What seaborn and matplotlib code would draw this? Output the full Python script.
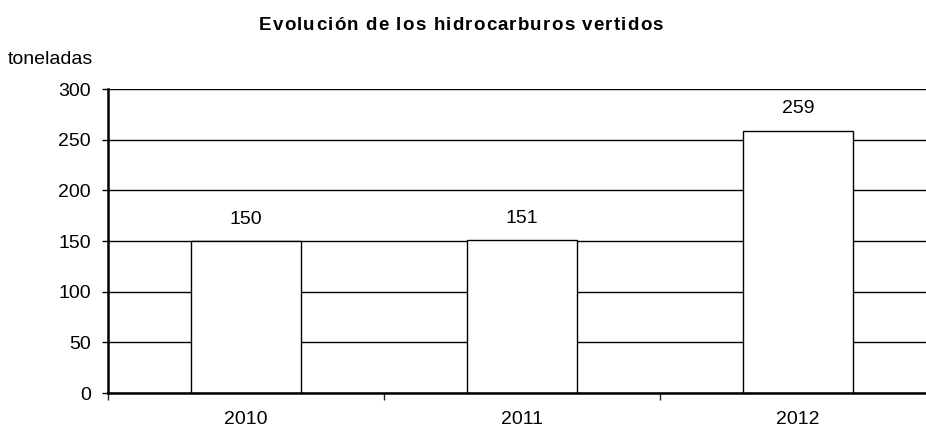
import matplotlib
matplotlib.use("Agg")
import matplotlib.pyplot as plt
import seaborn as sns
import pandas as pd
from matplotlib.ticker import FixedLocator

years = ["2010", "2011", "2012"]
toneladas = [150, 151, 259]
title = "Evolución de los hidrocarburos vertidos"
unit = "toneladas"

df = pd.DataFrame({"year": years, "value": toneladas})

sns.set_theme(style="white")
plt.rcParams["font.family"] = ["Liberation Sans", "DejaVu Sans"]
plt.rcParams["text.color"] = "black"

fig = plt.figure(figsize=(9.26, 4.30), dpi=100)
ax = fig.add_axes([108 / 926, 37 / 430, 828 / 926, 304 / 430])

ax.set_axisbelow(True)
ax.yaxis.grid(True, color="black", linewidth=1.0)
sns.barplot(data=df, x="year", y="value", color="white", edgecolor="black",
            linewidth=1.0, width=0.4, ax=ax, saturation=1)

ax.bar_label(ax.containers[0], labels=[str(v) for v in toneladas],
             padding=9.5, fontsize=14, color="black")

ax.set_ylim(0, 300)
ax.set_yticks(range(0, 301, 50))
ax.set_xlim(-0.5, 2.5)
ax.set_xlabel("")
ax.set_ylabel("")
ax.tick_params(axis="both", labelsize=14, colors="black")
ax.tick_params(axis="y", direction="out", length=4.5, width=1, left=True, pad=8)
ax.tick_params(axis="x", which="major", length=0, pad=13)
ax.xaxis.set_minor_locator(FixedLocator([-0.5, 0.5, 1.5, 2.5]))
ax.tick_params(axis="x", which="minor", direction="out", length=5, width=1, bottom=True)

for s in ["top", "right"]:
    ax.spines[s].set_visible(False)
for s in ["left", "bottom"]:
    ax.spines[s].set_color("black")
    ax.spines[s].set_linewidth(1.8)


# title drawn with a bit of letter spacing, like the original
def spaced_text(s, xc, yb, extra, **kw):
    r = fig.canvas.get_renderer()

    def w(t):
        tt = fig.text(0, 0, t, **kw)
        bb = tt.get_window_extent(r)
        tt.remove()
        return bb.width

    wx = w("x")
    pos = [w(s[:i] + "x") - wx if i else 0 for i in range(len(s))]
    total = w(s) + extra * (len(s) - 1)
    x0 = xc - total / 2
    for i, ch in enumerate(s):
        if ch != " ":
            fig.text((x0 + pos[i] + extra * i) / 926, yb / 430, ch,
                     ha="left", va="baseline", **kw)


spaced_text(title, 461, 430 - 30, 1.2, fontsize=13.5, fontweight="bold")
fig.text(8 / 926, 1 - 64 / 430, unit, ha="left", va="baseline", fontsize=14)

fig.savefig("out.png", dpi=100)
